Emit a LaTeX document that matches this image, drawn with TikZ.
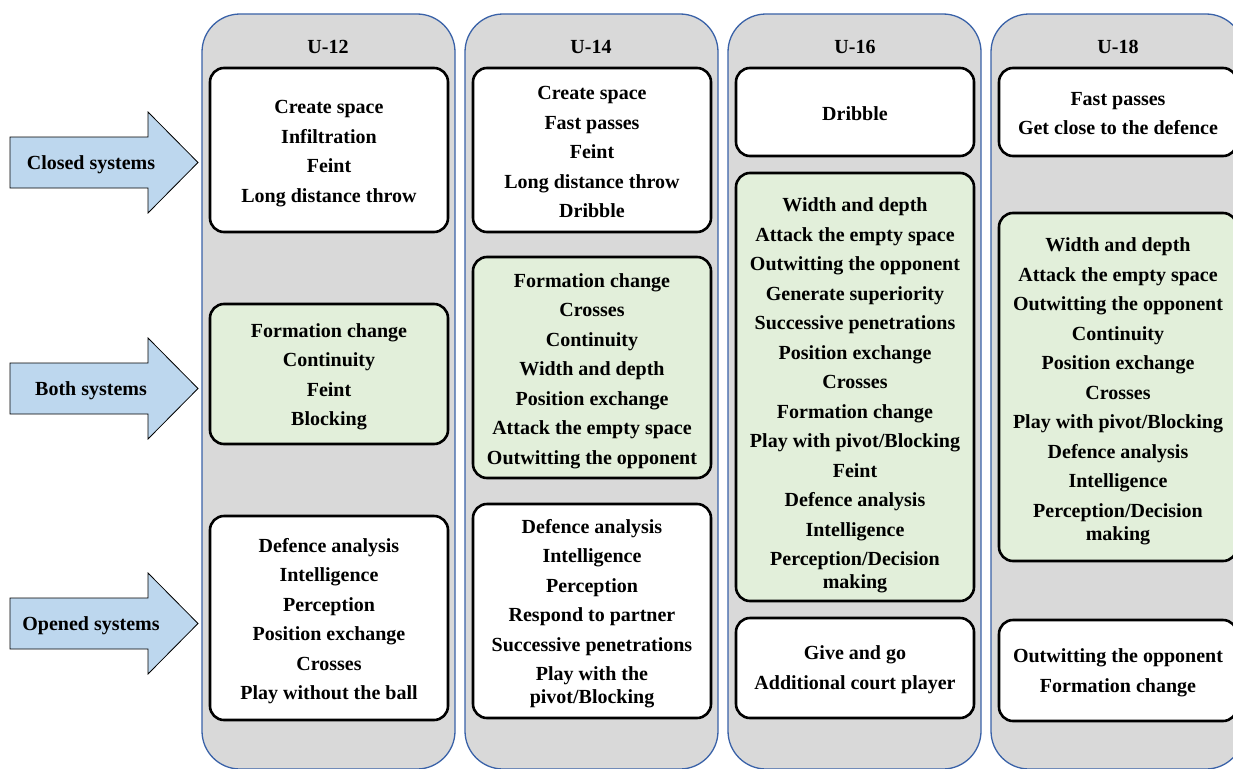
\documentclass[tikz,border=0pt]{standalone}
\usepackage{fontspec}
\setmainfont{Liberation Serif}
\definecolor{colgray}{HTML}{D9D9D9}
\definecolor{colblue}{HTML}{3A62A8}
\definecolor{arrblue}{HTML}{BDD7EE}
\definecolor{boxgreen}{HTML}{E2EFDA}
\tikzset{
  txt/.style={font=\fontsize{20}{29.5}\selectfont\bfseries, align=center, inner sep=0pt},
  column/.style={draw=colblue, line width=1.3pt, fill=colgray, rounded corners=38pt,
    minimum width=253pt, minimum height=755pt, inner sep=0pt},
  header/.style={txt},
  itembox/.style={draw=black, line width=2.6pt, rounded corners=14pt,
    minimum width=238pt, inner sep=0pt},
  whitebox/.style={itembox, fill=white},
  greenbox/.style={itembox, fill=boxgreen},
  sysarrow/.style={draw=black, line width=0.8pt, fill=arrblue},
}
\begin{document}
\begin{tikzpicture}[x=1pt,y=-1pt]
\useasboundingbox (0,0) rectangle (1233,768);
\clip (0,0) rectangle (1233,768);
\fill[white] (0,0) rectangle (1233,768);

% columns
\node[column] (c12) at (328.5,391.5) {};
\node[column] (c14) at (591.5,391.5) {};
\node[column] (c16) at (854.5,391.5) {};
\node[column] (c18) at (1117.5,391.5) {};

\node[header] (h12) at (328,46.5) {U-12};
\node[header] (h14) at (591,46.5) {U-14};
\node[header] (h16) at (855,46.5) {U-16};
\node[header] (h18) at (1118,46.5) {U-18};

% U-12
\node[whitebox, minimum height=164pt] (a1) at (329,150) {};
\node[txt] (a1t) at ([yshift=-3.5pt]a1.center) {Create space\\Infiltration\\Feint\\Long distance throw};
\node[greenbox, minimum height=140pt] (a2) at (329,374) {};
\node[txt] (a2t) at ([yshift=-3pt]a2.center) {Formation change\\Continuity\\Feint\\Blocking};
\node[whitebox, minimum height=204pt] (a3) at (329,618) {};
\node[txt] (a3t) at ([yshift=-3pt]a3.center) {Defence analysis\\Intelligence\\Perception\\Position exchange\\Crosses\\Play without the ball};

% U-14
\node[whitebox, minimum height=164pt] (b1) at (592,150) {};
\node[txt] (b1t) at ([yshift=-2pt]b1.center) {Create space\\Fast passes\\Feint\\Long distance throw\\Dribble};
\node[greenbox, minimum height=221pt] (b2) at (592,367.5) {};
\node[txt] (b2t) at ([yshift=-3.5pt]b2.center) {Formation change\\Crosses\\Continuity\\Width and depth\\Position exchange\\Attack the empty space\\Outwitting the opponent};
\node[whitebox, minimum height=214pt] (b3) at (592,611) {};
\node[txt] (b3t) at ([yshift=-2.5pt]b3.center) {Defence analysis\\Intelligence\\Perception\\Respond to partner\\Successive penetrations\\Play with the\\[-6.5pt]pivot/Blocking};

% U-16
\node[whitebox, minimum height=88pt] (d1) at (855,112) {};
\node[txt] (d1t) at ([yshift=-1.5pt]d1.center) {Dribble};
\node[greenbox, minimum height=428pt] (d2) at (855,387) {};
\node[txt] (d2t) at ([yshift=-8.5pt]d2.center) {Width and depth\\Attack the empty space\\Outwitting the opponent\\Generate superiority\\Successive penetrations\\Position exchange\\Crosses\\Formation change\\Play with pivot/Blocking\\Feint\\Defence analysis\\Intelligence\\Perception/Decision\\[-6.5pt]making};
\node[whitebox, minimum height=100pt] (d3) at (855,668) {};
\node[txt] (d3t) at ([yshift=-1.5pt]d3.center) {Give and go\\Additional court player};

% U-18
\node[whitebox, minimum height=88pt] (e1) at (1118,112) {};
\node[txt] (e1t) at ([yshift=-1.5pt]e1.center) {Fast passes\\Get close to the defence};
\node[greenbox, minimum height=348pt] (e2) at (1118,387) {};
\node[txt] (e2t) at ([yshift=-4.5pt]e2.center) {Width and depth\\Attack the empty space\\Outwitting the opponent\\Continuity\\Position exchange\\Crosses\\Play with pivot/Blocking\\Defence analysis\\Intelligence\\Perception/Decision\\[-6.5pt]making};
\node[whitebox, minimum height=101pt] (e3) at (1118,670.5) {};
\node[txt] (e3t) at ([yshift=-2.5pt]e3.center) {Outwitting the opponent\\Formation change};

% system arrows
\foreach \c/\t/\n in {162.5/Closed systems/cl, 388.5/Both systems/bo, 623.5/Opened systems/op}{
  \draw[sysarrow] (10,\c-25.5) -- (148,\c-25.5) -- (148,\c-50.5) -- (198,\c)
     -- (148,\c+50.5) -- (148,\c+25.5) -- (10,\c+25.5) -- cycle;
  \node[txt] (\n) at (91,\c+2.5) {\t};
}
\end{tikzpicture}
\end{document}
